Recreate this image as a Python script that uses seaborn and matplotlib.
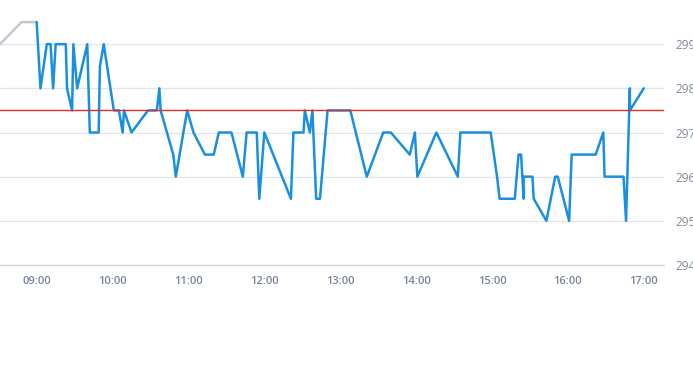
import pandas as pd
import matplotlib
matplotlib.use("Agg")
import matplotlib.pyplot as plt
import matplotlib.dates as mdates
import seaborn as sns

# Pre-session (gray) part of the line
pre_times = ["08:31", "08:48", "09:00"]
pre_values = [299.0, 299.5, 299.5]

# Session (blue) part of the line
times = ["09:00", "09:03", "09:08", "09:11", "09:13", "09:15", "09:23", "09:24", "09:28",
         "09:29", "09:32", "09:40", "09:42", "09:49", "09:50", "09:53", "10:01", "10:05",
         "10:08", "10:09", "10:15", "10:28", "10:35", "10:37", "10:38", "10:48", "10:50",
         "10:59", "11:04", "11:13", "11:20", "11:24", "11:34", "11:43", "11:46", "11:54",
         "11:56", "12:00", "12:21", "12:23", "12:31", "12:32", "12:36", "12:38", "12:41",
         "12:44", "12:50", "13:08", "13:21", "13:34", "13:40", "13:55", "13:59", "14:01",
         "14:16", "14:33", "14:35", "14:59", "15:04", "15:06", "15:18", "15:21", "15:23",
         "15:25", "15:25", "15:32", "15:33", "15:43", "15:50", "15:52", "16:01", "16:03",
         "16:22", "16:28", "16:29", "16:44", "16:46", "16:49", "16:49", "17:00"]
values = [299.5, 298.0, 299.0, 299.0, 298.0, 299.0, 299.0, 298.0, 297.5,
          299.0, 298.0, 299.0, 297.0, 297.0, 298.5, 299.0, 297.5, 297.5,
          297.0, 297.5, 297.0, 297.5, 297.5, 298.0, 297.5, 296.5, 296.0,
          297.5, 297.0, 296.5, 296.5, 297.0, 297.0, 296.0, 297.0, 297.0,
          295.5, 297.0, 295.5, 297.0, 297.0, 297.5, 297.0, 297.5, 295.5,
          295.5, 297.5, 297.5, 296.0, 297.0, 297.0, 296.5, 297.0, 296.0,
          297.0, 296.0, 297.0, 297.0, 296.0, 295.5, 295.5, 296.5, 296.5,
          295.5, 296.0, 296.0, 295.5, 295.0, 296.0, 296.0, 295.0, 296.5,
          296.5, 297.0, 296.0, 296.0, 295.0, 298.0, 297.5, 298.0]

ref_level = 297.5
y_ticks = [294, 295, 296, 297, 298, 299]
x_ticks = ["09:00", "10:00", "11:00", "12:00", "13:00", "14:00", "15:00", "16:00", "17:00"]
x_start, x_end = "08:31", "17:16"


def to_dt(t):
    return pd.to_datetime("2024-01-02 " + pd.Series(t))


pre = pd.DataFrame({"time": to_dt(pre_times), "value": pre_values})
df = pd.DataFrame({"time": to_dt(times), "value": values})

sns.set_style("white")
plt.rcParams["font.family"] = ["Open Sans", "DejaVu Sans"]
fig = plt.figure(figsize=(6.93, 3.65), dpi=100)
ax = fig.add_axes([0, 100 / 365, 664 / 693, 265 / 365])

sns.lineplot(data=pre, x="time", y="value", ax=ax, color="#c2c8d0", linewidth=1.8,
             sort=False, estimator=None)
sns.lineplot(data=df, x="time", y="value", ax=ax, color="#1a8fe0", linewidth=1.8,
             sort=False, estimator=None)
ax.axhline(ref_level, color="#d9322b", linewidth=1.0, zorder=3)

ax.set_xlim(to_dt([x_start])[0], to_dt([x_end])[0])
ax.set_ylim(294, 300)
ax.set_yticks(y_ticks)
ax.set_xticks(to_dt(x_ticks))
ax.xaxis.set_major_formatter(mdates.DateFormatter("%H:%M"))
ax.yaxis.tick_right()
ax.grid(axis="y", color="#e3e6ea", linewidth=1)
ax.set_xlabel("")
ax.set_ylabel("")

for side in ["top", "left", "right"]:
    ax.spines[side].set_visible(False)
ax.spines["bottom"].set_color("#ccd1d9")
ax.tick_params(axis="x", length=3, color="#ccd1d9", labelsize=8, labelcolor="#78849a", pad=5)
ax.tick_params(axis="y", length=0, labelsize=8.5, labelcolor="#7f8998", pad=8.5)
for lbl in ax.get_xticklabels():
    lbl.set_fontweight("semibold")

fig.savefig("out.png", dpi=100)
